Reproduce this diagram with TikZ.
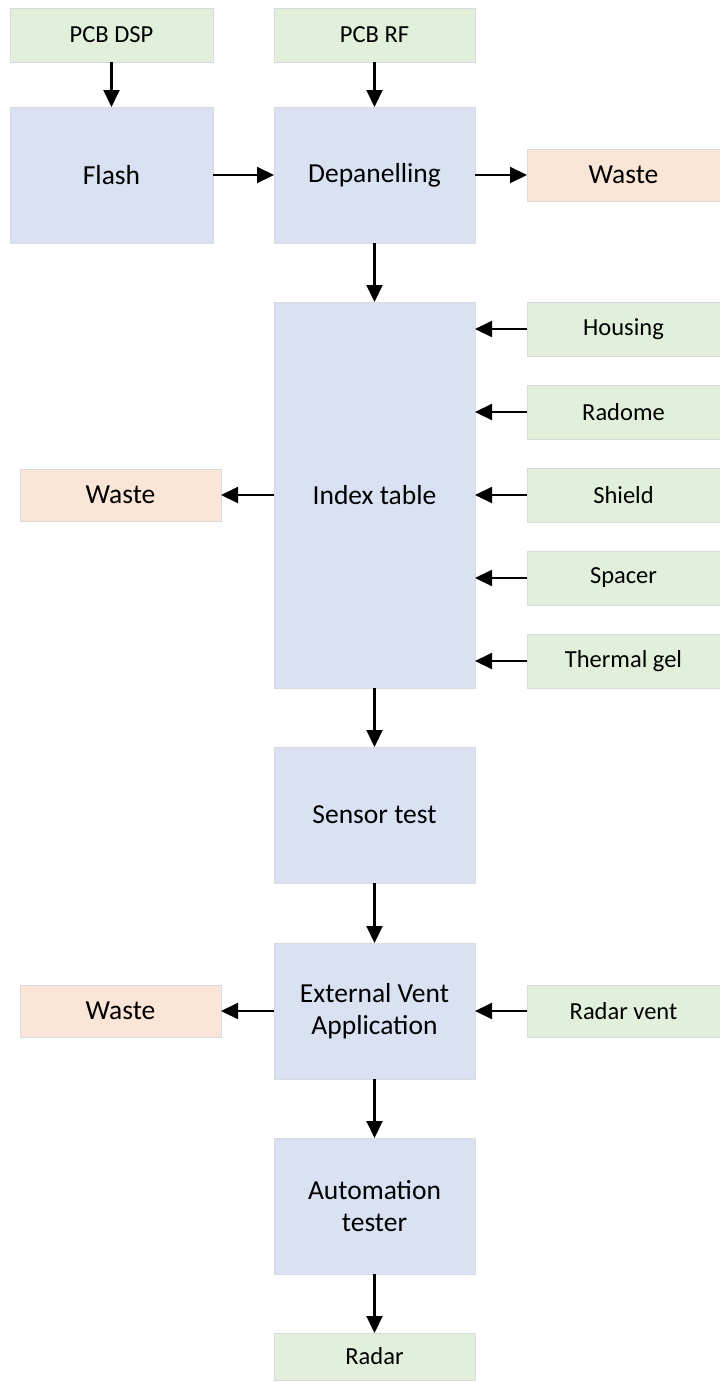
\documentclass[tikz,border=0pt]{standalone}
\usepackage{fontspec}
\setmainfont{Carlito}
\usetikzlibrary{arrows.meta}
\definecolor{procblue}{RGB}{218,225,242}
\definecolor{inputgreen}{RGB}{226,239,218}
\definecolor{wastepeach}{RGB}{251,229,214}
\definecolor{edgegray}{RGB}{215,218,222}
\tikzset{
  box/.style={draw=edgegray, line width=0.8pt, inner sep=0pt, outer sep=0pt, align=center, text=black},
  proc/.style={box, fill=procblue, minimum width=201pt, minimum height=136pt,
    font=\fontsize{27.5pt}{32pt}\selectfont},
  inbox/.style={box, fill=inputgreen, minimum height=54pt,
    font=\fontsize{24.5pt}{29pt}\selectfont},
  wastebox/.style={box, fill=wastepeach, minimum height=52pt,
    font=\fontsize{27.5pt}{32pt}\selectfont},
  arr/.style={line width=2.1pt, -{Triangle[length=17pt,width=16pt]}}
}
\begin{document}
\begin{tikzpicture}[x=1pt,y=-1pt]
  \useasboundingbox (0,0) rectangle (720,1382);
  % raw parts and process steps
  \node[inbox, minimum width=203pt] (dsp) at (111.5,35) {PCB DSP};
  \node[inbox, minimum width=201pt] (rf) at (374.5,35) {PCB RF};
  \node[proc, minimum width=203pt] (flash) at (111.5,175) {Flash};
  \node[proc] (depan) at (374.5,175) {Depanelling};
  \node[wastebox, minimum width=193pt] (waste1) at (623.5,175) {Waste};
  \node[proc, minimum height=386pt] (index) at (374.5,495) {Index table};
  \node[inbox, minimum width=193pt] (housing) at (623.5,329) {Housing};
  \node[inbox, minimum width=193pt] (radome) at (623.5,412) {Radome};
  \node[inbox, minimum width=193pt] (shield) at (623.5,495) {Shield};
  \node[inbox, minimum width=193pt] (spacer) at (623.5,578) {Spacer};
  \node[inbox, minimum width=193pt] (gel) at (623.5,661) {Thermal gel};
  \node[wastebox, minimum width=201pt] (waste2) at (120.5,495) {Waste};
  \node[proc] (sensor) at (374.5,815) {Sensor test};
  \node[proc] (vent) at (374.5,1011) {External Vent\\Application};
  \node[wastebox, minimum width=201pt] (waste3) at (120.5,1011) {Waste};
  \node[inbox, minimum width=193pt, minimum height=52pt] (rvent) at (623.5,1011) {Radar vent};
  \node[proc] (auto) at (374.5,1206) {Automation\\tester};
  \node[inbox, minimum width=201pt, minimum height=47pt] (radar) at (374.5,1356.5) {Radar};
  % material flow
  \draw[arr] (dsp) -- (flash);
  \draw[arr] (rf) -- (depan);
  \draw[arr] (flash) -- (depan);
  \draw[arr] (depan) -- (waste1);
  \draw[arr] (depan) -- (index);
  \foreach \p in {housing,radome,shield,spacer,gel}
    \draw[arr] (\p.west) -- (\p.west -| index.east);
  \draw[arr] (index.west |- waste2.east) -- (waste2.east);
  \draw[arr] (index) -- (sensor);
  \draw[arr] (sensor) -- (vent);
  \draw[arr] (vent) -- (waste3);
  \draw[arr] (rvent) -- (vent);
  \draw[arr] (vent) -- (auto);
  \draw[arr] (auto) -- (radar);
\end{tikzpicture}
\end{document}
